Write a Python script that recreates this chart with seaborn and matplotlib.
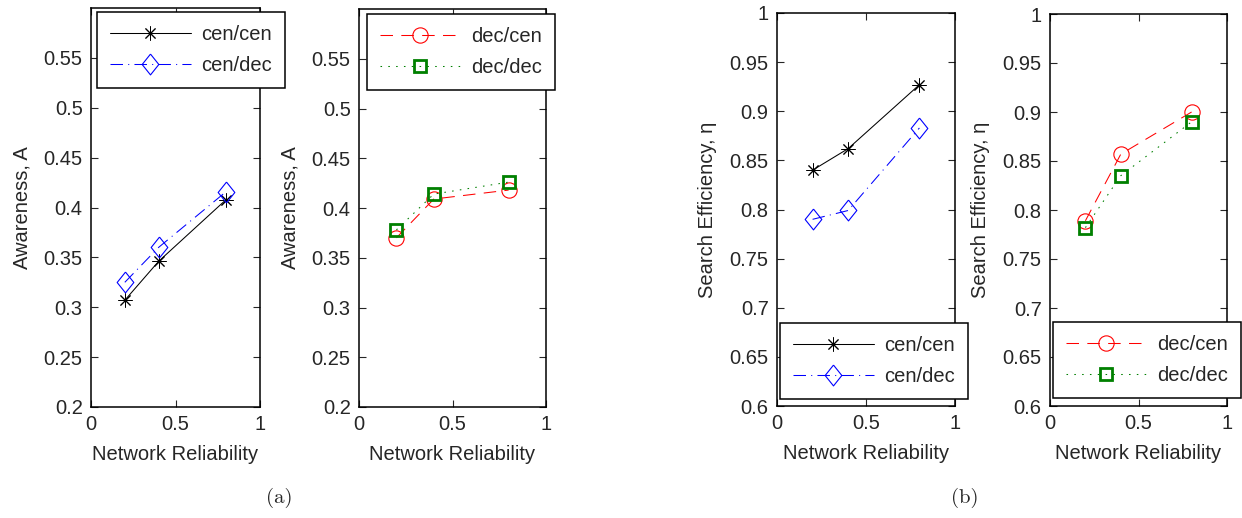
import matplotlib
matplotlib.use("Agg")
import matplotlib.pyplot as plt
import seaborn as sns

# values
reliability = [0.2, 0.4, 0.8]

aw_cen_cen = [0.307, 0.346, 0.408]
aw_cen_dec = [0.325, 0.360, 0.416]
aw_dec_cen = [0.370, 0.409, 0.418]
aw_dec_dec = [0.378, 0.414, 0.426]

eff_cen_cen = [0.840, 0.862, 0.927]
eff_cen_dec = [0.790, 0.799, 0.883]
eff_dec_cen = [0.789, 0.857, 0.900]
eff_dec_dec = [0.782, 0.835, 0.890]

aw_ticks = [0.2, 0.25, 0.3, 0.35, 0.4, 0.45, 0.5, 0.55]
eff_ticks = [0.6, 0.65, 0.7, 0.75, 0.8, 0.85, 0.9, 0.95, 1]
x_ticks = [0, 0.5, 1]
x_ticklabels = ["0", "0.5", "1"]
aw_ticklabels = ["0.2", "0.25", "0.3", "0.35", "0.4", "0.45", "0.5", "0.55"]
eff_ticklabels = ["0.6", "0.65", "0.7", "0.75", "0.8", "0.85", "0.9", "0.95", "1"]

sns.set_style("ticks")
plt.rcParams['font.family'] = ['Liberation Sans', 'DejaVu Sans']
FS = 14.5

W, H = 1242, 518
fig = plt.figure(figsize=(W / 100, H / 100), dpi=100)

def px_axes(left, top, right, bottom):
    return fig.add_axes([left / W, 1 - bottom / H, (right - left) / W, (bottom - top) / H])

ax1 = px_axes(91, 8, 260, 407)
ax2 = px_axes(359, 9, 546, 407)
ax3 = px_axes(777, 13, 955, 406)
ax4 = px_axes(1050, 14, 1227, 406)

diamond = [(0, 1), (0.8, 0), (0, -1), (-0.8, 0), (0, 1)]

styles = {
    "cen/cen": dict(color="black", linestyle="-", marker=(8, 2, 0), markersize=10,
                    markeredgecolor="black", markerfacecolor="none", markeredgewidth=0.7),
    "cen/dec": dict(color="blue", linestyle=(0, (12, 5, 1, 5)), marker=diamond, markersize=15,
                    markeredgecolor="blue", markerfacecolor="none", markeredgewidth=0.8),
    "dec/cen": dict(color="red", linestyle=(0, (12, 8)), marker="o", markersize=11,
                    markeredgecolor="red", markerfacecolor="none", markeredgewidth=0.8),
    "dec/dec": dict(color="#008000", linestyle=(0, (1.5, 6)), marker="s", markersize=9,
                    markeredgecolor="#008000", markerfacecolor="none", markeredgewidth=2.0),
}

def draw(ax, series, ylim, yticks, yticklabels, ylabel, leg_xy):
    for name, vals in series:
        sns.lineplot(x=reliability, y=vals, ax=ax, label=name, legend=False,
                     linewidth=0.75, **styles[name])
    ax.set_xlim(0, 1)
    ax.set_ylim(*ylim)
    ax.set_xticks(x_ticks)
    ax.set_xticklabels(x_ticklabels)
    ax.set_yticks(yticks)
    ax.set_yticklabels(yticklabels)
    ax.tick_params(direction="in", top=True, right=True, length=5, width=0.8,
                   labelsize=FS, pad=6)
    for sp in ax.spines.values():
        sp.set_visible(True)
        sp.set_linewidth(1.1)
        sp.set_color("black")
    ax.set_xlabel("Network Reliability", fontsize=FS, labelpad=8)
    ax.set_ylabel(ylabel, fontsize=FS, labelpad=9)
    leg = ax.legend(loc="upper left", bbox_to_anchor=(leg_xy[0] / W, 1 - leg_xy[1] / H),
                    bbox_transform=fig.transFigure, borderaxespad=0, fontsize=FS,
                    fancybox=False, framealpha=1, edgecolor="black", handlelength=4.0,
                    handletextpad=0.5, labelspacing=0.6, borderpad=0.65)
    leg.get_frame().set_linewidth(1.1)

draw(ax1, [("cen/cen", aw_cen_cen), ("cen/dec", aw_cen_dec)], (0.2, 0.6),
     aw_ticks, aw_ticklabels, "Awareness, A", (97, 12))
draw(ax2, [("dec/cen", aw_dec_cen), ("dec/dec", aw_dec_dec)], (0.2, 0.6),
     aw_ticks, aw_ticklabels, "Awareness, A", (367, 14))
draw(ax3, [("cen/cen", eff_cen_cen), ("cen/dec", eff_cen_dec)], (0.6, 1.0),
     eff_ticks, eff_ticklabels, "Search Efficiency, η", (780, 323))
draw(ax4, [("dec/cen", eff_dec_cen), ("dec/dec", eff_dec_dec)], (0.6, 1.0),
     eff_ticks, eff_ticklabels, "Search Efficiency, η", (1053, 322))

fig.text(279 / W, 1 - 498 / H, "(a)", fontsize=15, family=["cmr10", "DejaVu Serif"],
         ha="center", va="center")
fig.text(965 / W, 1 - 498 / H, "(b)", fontsize=15, family=["cmr10", "DejaVu Serif"],
         ha="center", va="center")

fig.savefig("out.png", dpi=100, facecolor="white")
